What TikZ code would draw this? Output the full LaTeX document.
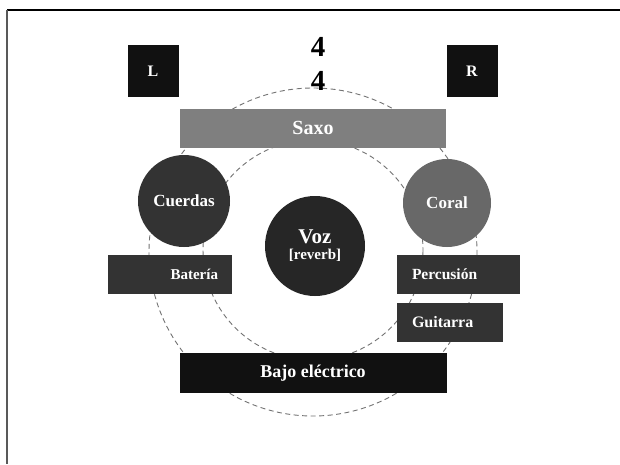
\documentclass[tikz,border=0pt]{standalone}
\usepackage{fontspec}
\setmainfont{Liberation Serif}
\usepackage{xcolor}
\usetikzlibrary{positioning}
\definecolor{darkbox}{HTML}{333333}
\definecolor{blackbox}{HTML}{111111}
\definecolor{saxogray}{HTML}{7F7F7F}
\definecolor{coralgray}{HTML}{686868}
\tikzset{
    speaker/.style={
        rectangle,
        fill=blackbox,
        text=white,
        font=\bfseries\fontsize{16}{18}\selectfont,
        minimum width=51pt,
        minimum height=52pt,
        inner sep=0pt,
    },
    bar/.style={
        rectangle,
        text=white,
        font=\bfseries\fontsize{16}{18}\selectfont,
        minimum height=39pt,
        inner sep=0pt,
    },
    instr/.style={
        circle,
        text=white,
        font=\bfseries\fontsize{17}{19}\selectfont,
        inner sep=0pt,
    },
    ring/.style={
        draw=gray!90!black,
        line width=0.9pt,
        dash pattern=on 5pt off 3.5pt,
    },
}

\begin{document}
\begin{tikzpicture}[x=1pt, y=-1pt]
      \useasboundingbox (0,0) rectangle (620,464);
      \fill[white] (0,0) rectangle (620,464);
      \draw[black, line width=1.2pt] (7,10) -- (620,10);
      \draw[gray!70!black, line width=2pt] (7,10) -- (7,464);

      % stage rings
      \draw[ring] (313,252) circle[radius=164];
      \draw[ring] (313,250) circle[radius=110];

      % speakers and meter
      \node[speaker] (left) at (153,71) {L};
      \node[speaker] (right) at (472,71) {R};
      \node[font=\bfseries\fontsize{29}{29}\selectfont] (num) at (318,47) {4};
      \node[font=\bfseries\fontsize{29}{29}\selectfont] (den) at (318,81) {4};

      % instruments
      \node[bar, fill=saxogray, minimum width=266pt,
            font=\bfseries\fontsize{20}{22}\selectfont] (saxo) at (313,128) {Saxo};
      \node[instr, fill=darkbox, minimum size=92pt] (cuerdas) at (184,201) {Cuerdas};
      \node[instr, fill=coralgray, minimum size=88pt] (coral) at (447,203) {Coral};
      \node[instr, fill=black!85, minimum size=100pt, align=center] (voz) at (315,246)
            {\fontsize{21}{21}\selectfont Voz\\[-3pt]{\fontsize{15}{16}\selectfont [reverb]}};
      \node[bar, fill=darkbox, minimum width=124pt, text width=96pt, inner xsep=14pt,
            align=right, font=\bfseries\fontsize{15}{17}\selectfont] (bateria) at (170,274) {Batería};
      \node[bar, fill=darkbox, minimum width=123pt, text width=93pt, inner xsep=15pt,
            align=left, font=\bfseries\fontsize{15.5}{17}\selectfont] (percusion) at (458.5,274) {Percusión};
      \node[bar, fill=darkbox, minimum width=106pt, text width=76pt, inner xsep=15pt,
            align=left, font=\bfseries\fontsize{16}{18}\selectfont] (guitarra) at (450,322) {Guitarra};
      \node[bar, fill=blackbox, minimum width=267pt, minimum height=40pt,
            font=\bfseries\fontsize{18}{20}\selectfont] (bajo) at (313,373) {Bajo eléctrico};
\end{tikzpicture}
\end{document}
